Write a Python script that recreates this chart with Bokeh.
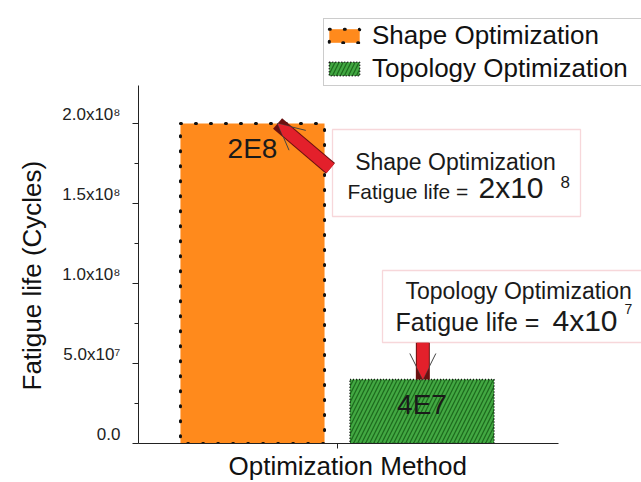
from bokeh.plotting import figure
from bokeh.models import (ColumnDataSource, Range1d, FixedTicker, Legend, LegendItem,
                          Label, BoxAnnotation, Arrow, OpenHead, Title)
from bokeh.core.properties import value
from bokeh.embed import file_html
from bokeh.resources import INLINE

# ---------------- data ----------------
methods = ["Shape Optimization", "Topology Optimization"]
positions = [0, 1]
fatigue_life = [2e8, 4e7]
value_labels = ["2E8", "4E7"]
y_ticks = [0, 5e7, 1e8, 1.5e8, 2e8]
y_tick_labels = ["0.0", "5.0x10⁷", "1.0x10⁸", "1.5x10⁸", "2.0x10⁸"]
y_minor_ticks = [2.5e7, 7.5e7, 1.25e8, 1.75e8]
life_mantissa = ["2x10", "4x10"]
life_exponent = ["8", "7"]
x_title = "Optimization Method"
y_title = "Fatigue life (Cycles)"

FONT = "Liberation Sans"
W, H = 641, 482
# axis geometry in window pixels
AX_L, AX_T, AX_R, AX_B = 138, 85, 558, 443
PX_PER_UNIT = 169.5          # pixels between the two bar centres
LEFT_PAD_PX = 114            # y axis -> first bar centre
PX_PER_VALUE = 320 / 2e8     # pixels per cycle

x0 = positions[0] - LEFT_PAD_PX / PX_PER_UNIT
x_axis_end = x0 + (AX_R - AX_L) / PX_PER_UNIT
x_frame_end = x0 + (W - AX_L) / PX_PER_UNIT
y_axis_end = (AX_B - AX_T) / PX_PER_VALUE
y_frame_end = AX_B / PX_PER_VALUE

p = figure(output_backend="svg", toolbar_location=None,
           frame_width=W - AX_L, frame_height=AX_B,
           min_border_left=AX_L, min_border_top=0,
           min_border_right=0, min_border_bottom=H - AX_B,
           x_range=Range1d(x0, x_frame_end), y_range=Range1d(0, y_frame_end))
p.xgrid.visible = False
p.ygrid.visible = False
p.outline_line_color = None
p.background_fill_color = "white"
p.border_fill_color = "white"

# axes
yax = p.yaxis[0]
yax.bounds = (0, y_axis_end)
yax.ticker = FixedTicker(ticks=y_ticks, minor_ticks=y_minor_ticks)
yax.major_label_overrides = {t: l + "\n " for t, l in zip(y_ticks, y_tick_labels)}
yax.major_tick_out = 6
yax.major_tick_in = 0
yax.minor_tick_out = 4
yax.minor_tick_in = 0
yax.major_label_standoff = 12
yax.major_label_text_font = FONT
yax.major_label_text_font_size = "17px"
yax.major_label_text_line_height = 1.0
yax.major_label_text_color = "#222222"
yax.axis_line_color = "#222222"
yax.major_tick_line_color = "#222222"
yax.minor_tick_line_color = "#222222"

xax = p.xaxis[0]
xax.bounds = (x0, x_axis_end)
xax.ticker = FixedTicker(ticks=[(positions[0] + positions[1]) / 2], minor_ticks=[])
xax.major_label_text_color = None
xax.major_label_text_font_size = "4px"
xax.major_label_standoff = 0
xax.major_tick_out = 5
xax.major_tick_in = 0
xax.axis_line_color = "#222222"
xax.major_tick_line_color = "#222222"

# axis titles (placed as side titles so they centre on the drawn axes)
p.add_layout(Title(text=y_title, align="left", offset=AX_B - 390, standoff=25,
                   text_font=FONT, text_font_size="26px", text_font_style="normal",
                   text_color="#111111"), "left")
p.add_layout(Title(text=x_title, align="left", offset=228 - AX_L, standoff=0,
                   text_font=FONT, text_font_size="26px", text_font_style="normal",
                   text_color="#111111"), "below")

# bars
r0 = p.vbar(x=[positions[0]], top=[fatigue_life[0]], width=0.85, bottom=0,
            fill_color="#FF8A1C", line_color="#111111", line_width=3,
            line_dash="1 14", line_cap="round")
r1 = p.vbar(x=[positions[1]], top=[fatigue_life[1]], width=0.85, bottom=0,
            fill_color="#42A842", hatch_pattern="/", hatch_color="#1D6B1D",
            hatch_scale=8, hatch_weight=1.3,
            line_color="#111111", line_width=1.5, line_dash="1 2")

# value labels in bars
src = ColumnDataSource(dict(x=positions, y=fatigue_life, t=value_labels))
p.text(x="x", y="y", text="t", source=src, text_align="center",
       text_baseline="top", y_offset=9, text_font=value(FONT),
       text_font_size="28px", text_color="#1a1a1a")

# legend
legend = Legend(items=[LegendItem(label=methods[0], renderers=[r0]),
                       LegendItem(label=methods[1], renderers=[r1])],
                location=(323 - AX_L, AX_B - 86),
                label_text_font=FONT, label_text_font_size="26px",
                label_text_color="#111111", label_width=290,
                glyph_width=38, glyph_height=17, label_standoff=9,
                padding=1, spacing=2, margin=0,
                border_line_color="#9a9a9a", border_line_width=1,
                background_fill_color="white", background_fill_alpha=1)
p.add_layout(legend)


def sx(X):
    return X - AX_L


def sy(Y):
    return AX_B - Y


# annotation boxes
box_color = "#E57A84"
for (l, r, t, b) in [(332, 580, 129, 216), (382, 680, 270, 342)]:
    p.add_layout(BoxAnnotation(left=sx(l), right=sx(r), top=sy(t), bottom=sy(b),
                               left_units="screen", right_units="screen",
                               top_units="screen", bottom_units="screen",
                               fill_color="white", fill_alpha=1,
                               line_color=box_color, line_width=1.3))


def lab(X, Y, text, size, align="left"):
    p.add_layout(Label(x=sx(X), y=sy(Y), x_units="screen", y_units="screen",
                       text=text, text_font=FONT, text_font_size=f"{size}px",
                       text_align=align, text_baseline="middle",
                       text_color="#1a1a1a"))


lab(455, 161, methods[0], 23, align="center")
lab(347, 191, "Fatigue life = ", 21)
lab(478, 187, life_mantissa[0], 30)
lab(560, 181, life_exponent[0], 17)

lab(405, 290, methods[1], 23)
lab(395, 321, "Fatigue life = ", 25)
lab(552, 320, life_mantissa[1], 30)
lab(624, 308, life_exponent[1], 14)

# arrows
red = "#E3202B"
arrows = [
    (positions[0] + 0.46, 1.72e8, positions[0] + 0.148, fatigue_life[0]),
    (positions[1] + 0.005, 6.3e7, positions[1] + 0.005, fatigue_life[1]),
]
for xs, ys, xe, ye in arrows:
    p.add_layout(Arrow(x_start=xs, y_start=ys, x_end=xe, y_end=ye, end=None,
                       line_color="#6b1010", line_width=14))
    p.add_layout(Arrow(x_start=xs, y_start=ys, x_end=xe, y_end=ye,
                       end=OpenHead(size=26, line_color="#444444", line_width=1),
                       line_color=red, line_width=12))

open("out.html", "w").write(file_html(p, INLINE))
